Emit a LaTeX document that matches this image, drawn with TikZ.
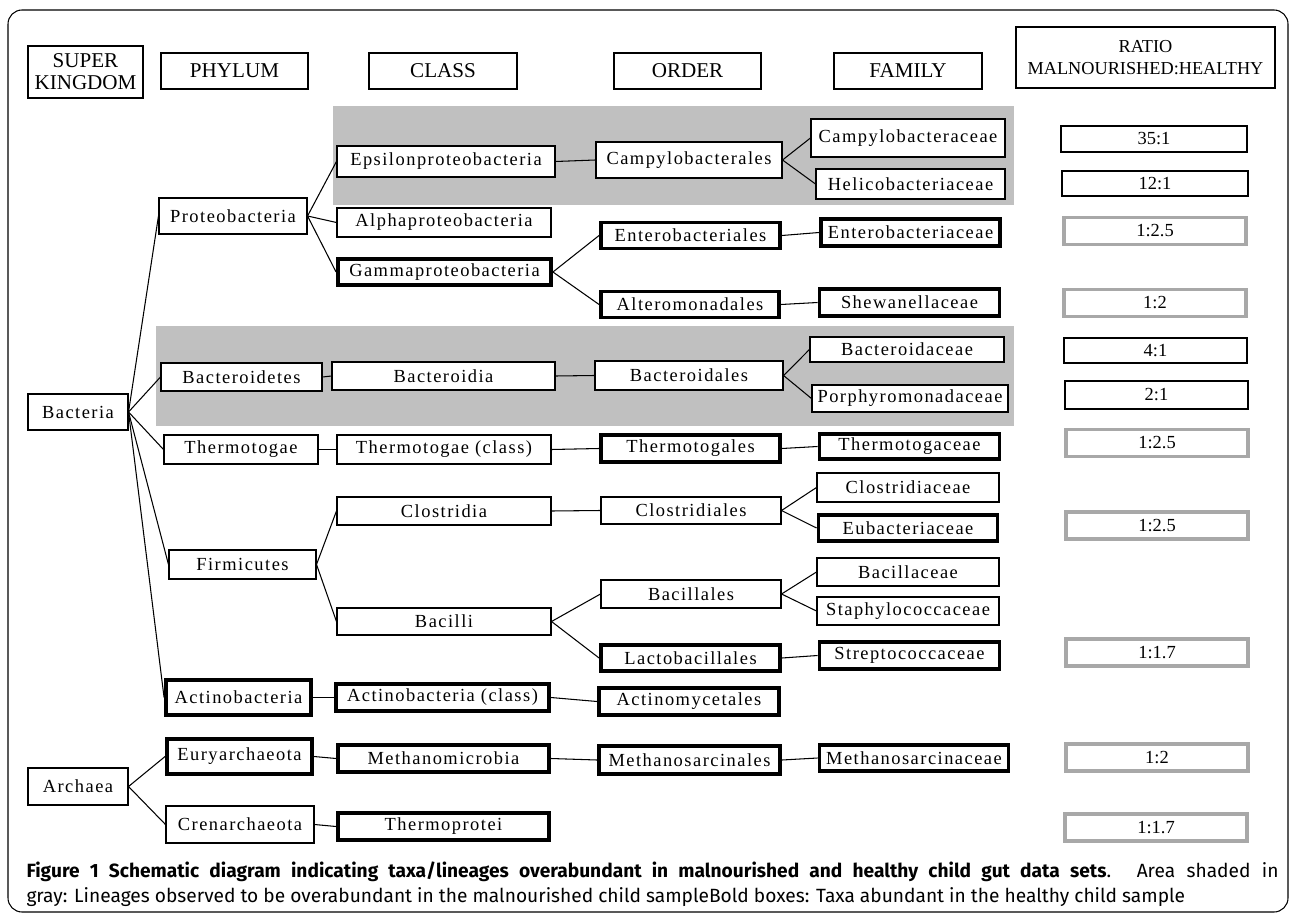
\documentclass[tikz,border=0pt]{standalone}
\usepackage{fontspec}
\setmainfont{Liberation Serif}
\newfontfamily\taxfont[LetterSpace=8]{Liberation Serif}
\newfontfamily\capfont{Fira Sans}
\definecolor{lineagegray}{RGB}{192,192,192}
\definecolor{ratioline}{RGB}{168,168,168}
\tikzset{w/.style={minimum width=#1*0.02cm},h/.style={minimum height=#1*0.02cm}}

\begin{document}
\begin{tikzpicture}[x=0.02cm,y=-0.02cm,semithick,font=\taxfont\fontsize{10.5}{12}\selectfont]
\tikzstyle{taxon}=[draw=black,fill=white,inner sep=0pt,semithick]
\tikzstyle{bold}=[taxon,line width=2.2pt]
\tikzstyle{head}=[taxon,align=center,font=\rmfamily\fontsize{12}{12.5}\selectfont]
\tikzstyle{ratio}=[taxon,w=186,h=26,font=\rmfamily\fontsize{10.5}{12}\selectfont]
\tikzstyle{ratiobold}=[ratio,draw=ratioline,line width=2.2pt,w=182,h=27]
\useasboundingbox (0,0) rectangle (1290,915);
\draw[rounded corners=8pt] (8,10) rectangle (1288,912);
% shaded lineages
\fill[lineagegray] (333,106) rectangle (1014,205);
\fill[lineagegray] (156,326) rectangle (1014,426);
% column headers
\node[head,w=115,h=52] (hsk) at (85.5,72) {SUPER\\KINGDOM};
\node[head,w=147,h=36] (hph) at (234.5,71) {PHYLUM};
\node[head,w=148,h=36] (hcl) at (443,71) {CLASS};
\node[head,w=147,h=36] (hor) at (687.5,71) {ORDER};
\node[head,w=148,h=36] (hfa) at (908,71) {FAMILY};
\node[head,w=259,h=61,font=\rmfamily\fontsize{10.4}{12.5}\selectfont] (hra) at (1145.5,57.5) {RATIO\\MALNOURISHED:HEALTHY};
% super kingdom
\node[taxon,w=100,h=36] (bact) at (78,412) {Bacteria};
\node[taxon,w=100,h=37] (arch) at (78,786.5) {Archaea};
% phylum
\node[taxon,w=148,h=36] (proteo) at (233,216) {Proteobacteria};
\node[taxon,w=161,h=28] (bactd) at (241.5,377) {Bacteroidetes};
\node[taxon,w=154,h=29] (thermo) at (241,449.5) {Thermotogae};
\node[taxon,w=147,h=29] (firmi) at (242.5,564.5) {Firmicutes};
\node[bold,w=145,h=35] (actino) at (238.5,697.5) {Actinobacteria};
\node[bold,w=145,h=35] (eury) at (239.5,756.5) {Euryarchaeota};
\node[taxon,w=148,h=37] (cren) at (240,824.5) {Crenarchaeota};
% class
\node[taxon,w=218,h=31] (eps) at (446,161.5) {Epsilonproteobacteria};
\node[taxon,w=214,h=29] (alpha) at (444,222.5) {Alphaproteobacteria};
\node[bold,w=213,h=26] (gamma) at (444.5,272) {Gammaproteobacteria};
\node[taxon,w=223,h=28] (bactdia) at (443.5,376) {Bacteroidia};
\node[taxon,w=214,h=29] (thermocl) at (444,449.5) {Thermotogae (class)};
\node[taxon,w=214,h=28] (clost) at (444,511) {Clostridia};
\node[taxon,w=214,h=27] (bacilli) at (444,621.5) {Bacilli};
\node[bold,w=213,h=27] (actcl) at (442.5,697.5) {Actinobacteria (class)};
\node[bold,w=211,h=27] (methmic) at (443.5,758.5) {Methanomicrobia};
\node[bold,w=211,h=27] (thprot) at (443.5,826.5) {Thermoprotei};
% order
\node[taxon,w=186,h=36] (campyo) at (689,160) {Campylobacterales};
\node[bold,w=179,h=26] (entero) at (690.5,235.5) {Enterobacteriales};
\node[bold,w=178,h=26] (altero) at (690,304.5) {Alteromonadales};
\node[taxon,w=188,h=29] (bactdl) at (689,375.5) {Bacteroidales};
\node[bold,w=179,h=27] (thermol) at (690.5,448.5) {Thermotogales};
\node[taxon,w=180,h=27] (clostl) at (691,510.5) {Clostridiales};
\node[taxon,w=180,h=28] (bacil) at (691,594) {Bacillales};
\node[bold,w=179,h=26] (lacto) at (690.5,658) {Lactobacillales};
\node[bold,w=180,h=27] (actmy) at (689,701.5) {Actinomycetales};
\node[bold,w=181,h=28] (methsl) at (689.5,760) {Methanosarcinales};
% family
\node[taxon,w=194,h=38] (campyf) at (908,138) {Campylobacteraceae};
\node[taxon,w=189,h=30] (helico) at (910.5,184) {Helicobacteriaceae};
\node[bold,w=179,h=27] (enterof) at (910.5,232.5) {Enterobacteriaceae};
\node[bold,w=180,h=27] (shewa) at (909.5,302.5) {Shewanellaceae};
\node[taxon,w=194,h=25] (bactdf) at (907,349.5) {Bacteroidaceae};
\node[taxon,w=196,h=27] (porph) at (910,398.5) {Porphyromonadaceae};
\node[bold,w=180,h=25] (thermof) at (909.5,446.5) {Thermotogaceae};
\node[taxon,w=182,h=29] (clostf) at (908,487.5) {Clostridiaceae};
\node[bold,w=179,h=26] (eubac) at (908,528) {Eubacteriaceae};
\node[taxon,w=182,h=28] (bacf) at (908,572) {Bacillaceae};
\node[taxon,w=182,h=28] (staph) at (908,611) {Staphylococcaceae};
\node[bold,w=180,h=27] (strep) at (909.5,655.5) {Streptococcaceae};
\node[bold,w=189,h=26] (methsf) at (914,758) {Methanosarcinaceae};
% ratios
\node[ratio] (r1) at (1154,139) {35:1};
\node[ratio,h=25] (r2) at (1155,183.5) {12:1};
\node[ratiobold] (r3) at (1155,231) {1:2.5};
\node[ratiobold] (r4) at (1155,303) {1:2};
\node[ratio,w=183,h=25] (r5) at (1155.5,350.5) {4:1};
\node[ratio,w=183,h=28] (r6) at (1156.5,395) {2:1};
\node[ratiobold] (r7) at (1157,443) {1:2.5};
\node[ratiobold] (r8) at (1157,525.5) {1:2.5};
\node[ratiobold] (r9) at (1157,652.5) {1:1.7};
\node[ratiobold] (r10) at (1157,757.5) {1:2};
\node[ratiobold] (r11) at (1156,827.5) {1:1.7};
% lineages
\foreach \a/\b in {bact/proteo,bact/bactd,bact/thermo,bact/firmi,bact/actino,
  arch/eury,arch/cren,proteo/eps,proteo/alpha,proteo/gamma,eps/campyo,
  campyo/campyf,campyo/helico,gamma/entero,gamma/altero,entero/enterof,altero/shewa,
  bactd/bactdia,bactdia/bactdl,bactdl/bactdf,bactdl/porph,
  thermo/thermocl,thermocl/thermol,thermol/thermof,
  firmi/clost,firmi/bacilli,clost/clostl,clostl/clostf,clostl/eubac,
  bacilli/bacil,bacilli/lacto,bacil/bacf,bacil/staph,lacto/strep,
  actino/actcl,actcl/actmy,eury/methmic,methmic/methsl,methsl/methsf,cren/thprot}
  \draw (\a.east) -- (\b.west);
% caption
\node[anchor=north west,inner sep=0pt,text width=1252*0.02cm,align=justify,
  font=\capfont\fontsize{10.9}{14.4}\selectfont] (cap) at (26,861)
  {\textbf{Figure 1 Schematic diagram indicating taxa/lineages overabundant in malnourished and healthy child gut data sets}. Area shaded in\linebreak
  gray: Lineages observed to be overabundant in the malnourished child sampleBold boxes: Taxa abundant in the healthy child sample};
\end{tikzpicture}
\end{document}
